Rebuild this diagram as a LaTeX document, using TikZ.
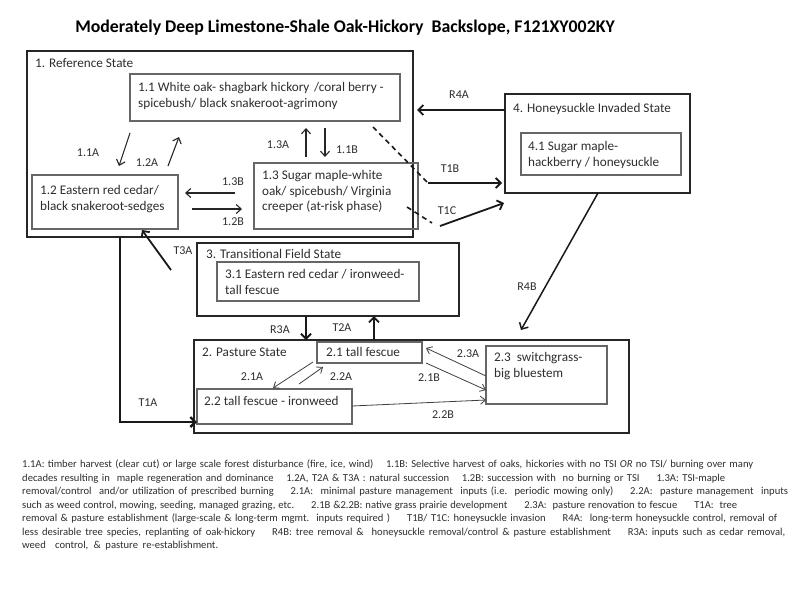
\documentclass[tikz,border=0pt]{standalone}
\usepackage{fontspec}
\setmainfont{Carlito}
\usetikzlibrary{arrows.meta}
\definecolor{txt}{HTML}{2E2E2E}
\definecolor{stateline}{HTML}{262626}
\definecolor{phaseline}{HTML}{666666}
\newcommand{\fnline}[2]{\makebox[#1pt][s]{#2}}
\begin{document}
\begin{tikzpicture}[x=1pt,y=-1pt,
  state/.style={draw=stateline, line width=2pt, anchor=north west, inner sep=0pt, outer sep=0pt},
  phase/.style={draw=phaseline, line width=1.2pt, anchor=north west, inner sep=0pt, outer sep=0pt},
  boxtxt/.style={anchor=north west, align=left, inner sep=0pt, font=\fontsize{13.2}{15.8}\selectfont, text=txt, xshift=8pt},
  lbl/.style={font=\fontsize{12}{14}\selectfont, text=txt, inner sep=0pt},
  bigarrow/.style={draw=black!90, line width=1.8pt, -{Straight Barb[length=5pt,width=10pt]}},
  midarrow/.style={draw=black!85, line width=1.1pt, -{Straight Barb[length=5pt,width=9pt]}},
  thinarrow/.style={draw=black!75, line width=0.8pt, -{Straight Barb[length=5pt,width=8pt]}},
  dashline/.style={draw=black!90, line width=1.6pt, dash pattern=on 5pt off 4pt},
  note/.style={anchor=west, inner sep=0pt, font=\fontsize{10.6}{12}\selectfont, text=txt},
]
\path[fill=white] (0,0) rectangle (800,600);

% title
\node[font=\bfseries\fontsize{17.8}{20}\selectfont, text=black] (title) at (345,28)
  {Moderately Deep Limestone-Shale Oak-Hickory\ \ Backslope, F121XY002KY};

% states
\node[state, minimum width=386pt, minimum height=186pt,
  label={[boxtxt,yshift=-7pt]north west:1. Reference State}] (s1) at (27,51) {};
\node[state, minimum width=185pt, minimum height=99pt,
  label={[boxtxt,yshift=-9pt]north west:4. Honeysuckle Invaded State}] (s4) at (505,94) {};
\node[state, minimum width=262pt, minimum height=73pt,
  label={[boxtxt,xshift=1pt,yshift=-6pt]north west:3. Transitional Field State}] (s3) at (197,243) {};
\node[state, minimum width=435pt, minimum height=93pt,
  label={[boxtxt,yshift=-8pt]north west:2. Pasture State}] (s2) at (194,340) {};

% phases
\node[phase, minimum width=270pt, minimum height=47pt,
  label={[boxtxt,yshift=-8pt]north west:{1.1 White oak- shagbark hickory\hspace{0.35em}/coral berry -\\spicebush/ black snakeroot-agrimony}}] (n11) at (130,74) {};
\node[phase, minimum width=146pt, minimum height=54pt,
  label={[boxtxt,yshift=-10pt]north west:{1.2 Eastern red cedar/\\black snakeroot-sedges}}] (n12) at (32,175) {};
\node[phase, minimum width=164pt, minimum height=66pt,
  label={[boxtxt,yshift=-7pt]north west:{1.3 Sugar maple-white\\oak/ spicebush/ Virginia\\creeper\ (at-risk phase)}}] (n13) at (254,163) {};
\node[phase, minimum width=160pt, minimum height=42pt,
  label={[boxtxt,xshift=-1pt,yshift=-8pt]north west:{4.1 Sugar maple-\\hackberry / honeysuckle}}] (n41) at (521,133) {};
\node[phase, minimum width=202pt, minimum height=39pt,
  label={[boxtxt,yshift=-7pt]north west:{3.1 Eastern red cedar / ironweed-\\tall fescue}}] (n31) at (217,262) {};
\node[phase, minimum width=105pt, minimum height=21pt,
  label={[boxtxt,xshift=1pt,yshift=-5pt]north west:{2.1 tall fescue}}] (n21) at (317,342) {};
\node[phase, minimum width=155pt, minimum height=35pt,
  label={[boxtxt,xshift=-1pt,yshift=-7pt]north west:{2.2 tall fescue - ironweed}}] (n22) at (197,389) {};
\node[phase, minimum width=121pt, minimum height=58pt,
  label={[boxtxt,yshift=-6pt]north west:{2.3\ \ switchgrass-\\big bluestem}}] (n23) at (486,346) {};

% connector end points
\coordinate (a11Aa) at (130,133); \coordinate (a11Ab) at (119,166);
\coordinate (a12Aa) at (168,166); \coordinate (a12Ab) at (179,137);
\coordinate (a13Aa) at (306,157); \coordinate (a13Ab) at (306,128);
\coordinate (a11Ba) at (325,128); \coordinate (a11Bb) at (325,157);
\coordinate (a13Ba) at (235,193); \coordinate (a13Bb) at (185,193);
\coordinate (a12Ba) at (192,209); \coordinate (a12Bb) at (242,209);
\coordinate (d1a) at (373,127); \coordinate (d1b) at (427,182);
\coordinate (t1ba) at (428,183); \coordinate (t1bb) at (502,183);
\coordinate (d2a) at (407,207); \coordinate (d2b) at (432,223);
\coordinate (t1ca) at (440,226); \coordinate (t1cb) at (504,203);
\coordinate (r4aa) at (505,110); \coordinate (r4ab) at (417,110);
\coordinate (r4ba) at (598,193); \coordinate (r4bb) at (521,330);
\coordinate (t3aa) at (171,270); \coordinate (t3ab) at (142,230);
\coordinate (t1aa) at (120,237); \coordinate (t1ab) at (197,422);
\coordinate (r3aa) at (306,316); \coordinate (r3ab) at (306,340);
\coordinate (t2aa) at (374,340); \coordinate (t2ab) at (374,316);
\coordinate (p21Aa) at (313,362); \coordinate (p21Ab) at (273,388);
\coordinate (p22Aa) at (299,384); \coordinate (p22Ab) at (323,367);
\coordinate (p23Aa) at (486,376); \coordinate (p23Ab) at (426,348);
\coordinate (p21Ba) at (426,363); \coordinate (p21Bb) at (486,390);
\coordinate (p22Ba) at (352,406); \coordinate (p22Bb) at (486,400);

% connectors
\draw[midarrow] (a11Aa) -- (a11Ab);
\draw[midarrow] (a12Aa) -- (a12Ab);
\draw[midarrow] (a13Aa) -- (a13Ab);
\draw[midarrow] (a11Ba) -- (a11Bb);
\draw[midarrow] (a13Ba) -- (a13Bb);
\draw[midarrow] (a12Ba) -- (a12Bb);
\draw[dashline] (d1a) -- (d1b);
\draw[dashline] (d2a) -- (d2b);
\draw[bigarrow] (t1ba) -- (t1bb);
\draw[bigarrow] (t1ca) -- (t1cb);
\draw[bigarrow] (r4aa) -- (r4ab);
\draw[bigarrow, line width=1.5pt] (r4ba) -- (r4bb);
\draw[bigarrow] (t3aa) -- (t3ab);
\draw[bigarrow, line width=2.4pt] (t1aa) |- (t1ab);
\draw[bigarrow] (r3aa) -- (r3ab);
\draw[bigarrow] (t2aa) -- (t2ab);
\draw[thinarrow] (p21Aa) -- (p21Ab);
\draw[thinarrow] (p22Aa) -- (p22Ab);
\draw[thinarrow] (p23Aa) -- (p23Ab);
\draw[thinarrow] (p21Ba) -- (p21Bb);
\draw[thinarrow] (p22Ba) -- (p22Bb);

% connector labels
\node[lbl] (l11A) at (88,153) {1.1A};
\node[lbl] (l12A) at (147,163) {1.2A};
\node[lbl] (l13A) at (278,145) {1.3A};
\node[lbl] (l11B) at (347,150) {1.1B};
\node[lbl] (l13B) at (233,182) {1.3B};
\node[lbl] (l12B) at (233,222) {1.2B};
\node[lbl] (lT1B) at (450,169) {T1B};
\node[lbl] (lT1C) at (447,211) {T1C};
\node[lbl] (lR4A) at (459,95) {R4A};
\node[lbl] (lR4B) at (527,287) {R4B};
\node[lbl] (lT3A) at (183,251) {T3A};
\node[lbl] (lT1A) at (148,403) {T1A};
\node[lbl] (lR3A) at (280,330) {R3A};
\node[lbl] (lT2A) at (342,328) {T2A};
\node[lbl] (l21A) at (252,377) {2.1A};
\node[lbl] (l22A) at (341,377) {2.2A};
\node[lbl] (l23A) at (468,354) {2.3A};
\node[lbl] (l21B) at (429,378) {2.1B};
\node[lbl] (l22B) at (443,415) {2.2B};

% footnote
\node[note] (fn1) at (22,465) {\fnline{731}{1.1A: timber harvest (clear cut) or large scale forest disturbance (fire, ice, wind)\hspace{1.2em}1.1B: Selective harvest of oaks, hickories with no TSI \emph{OR} no TSI/ burning over many}};
\node[note] (fn2) at (22,478.5) {\fnline{703}{decades resulting in\ \ maple regeneration and dominance\hspace{1.2em}1.2A, T2A \& T3A : natural succession\hspace{1.2em}1.2B: succession with\ \ no burning or TSI\hspace{1.6em}1.3A: TSI-maple}};
\node[note] (fn3) at (22,492) {\fnline{766}{removal/control\ \ and/or utilization of prescribed burning\hspace{1.6em}2.1A:\ \ minimal pasture management\ \ inputs (i.e. periodic mowing only)\hspace{1.6em}2.2A:\ \ pasture management\ \ inputs}};
\node[note] (fn4) at (22,505.5) {\fnline{715}{such as weed control, mowing, seeding, managed grazing, etc.\hspace{1.6em}2.1B \&2.2B: native grass prairie development\hspace{1.6em}2.3A:\ \ pasture renovation to fescue\hspace{1.6em}T1A:\ \ tree}};
\node[note] (fn5) at (22,519) {\fnline{755}{removal \& pasture establishment (large-scale \& long-term mgmt.\ \ inputs required )\hspace{1.6em}T1B/ T1C: honeysuckle invasion\hspace{1.6em}R4A:\ \ long-term honeysuckle control, removal of}};
\node[note] (fn6) at (22,532.5) {\fnline{763}{less desirable tree species, replanting of oak-hickory\hspace{1.6em}R4B: tree removal \&\ \ honeysuckle removal/control \& pasture establishment\hspace{1.6em}R3A: inputs such as cedar removal,}};
\node[note] (fn7) at (22,546) {\fnline{196}{weed\ \ control, \& pasture re-establishment.}};
\end{tikzpicture}
\end{document}
